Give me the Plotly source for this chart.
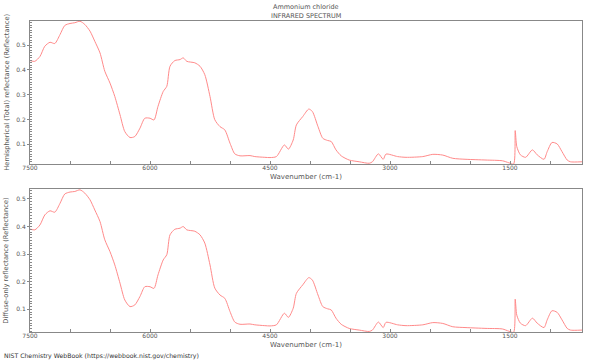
import plotly.graph_objects as go

wavenumber = [7500, 7440, 7375, 7315, 7250, 7190, 7125, 7065, 7000, 6940, 6875, 6815, 6750, 6690,
              6625, 6565, 6500, 6440, 6375, 6315, 6250, 6190, 6125, 6065, 6000, 5950, 5900, 5835,
              5790, 5750, 5690, 5625, 5585, 5540, 5440, 5375, 5315, 5250, 5190, 5125, 5065, 5000,
              4940, 4875, 4750, 4690, 4565, 4500, 4420, 4320, 4270, 4210, 4170, 4090, 4015, 3970,
              3900, 3840, 3780, 3735, 3675, 3610, 3510, 3385, 3260, 3220, 3145, 3085, 3050, 2905,
              2800, 2590, 2465, 2340, 2215, 2050, 1800, 1595, 1515, 1455, 1435, 1415, 1370, 1305,
              1220, 1160, 1075, 1035, 975, 910, 850, 785, 745, 600]

total_reflectance = [0.438, 0.435, 0.455, 0.496, 0.512, 0.507, 0.543, 0.580, 0.588, 0.591, 0.597,
                     0.584, 0.557, 0.516, 0.469, 0.395, 0.347, 0.293, 0.219, 0.151, 0.127, 0.131,
                     0.165, 0.205, 0.205, 0.198, 0.253, 0.313, 0.334, 0.415, 0.438, 0.442, 0.449,
                     0.435, 0.429, 0.415, 0.381, 0.293, 0.199, 0.171, 0.158, 0.104, 0.061, 0.053,
                     0.054, 0.050, 0.047, 0.046, 0.050, 0.097, 0.080, 0.117, 0.178, 0.212, 0.242,
                     0.232, 0.171, 0.124, 0.115, 0.111, 0.077, 0.053, 0.036, 0.029, 0.023, 0.029,
                     0.061, 0.039, 0.060, 0.050, 0.047, 0.050, 0.059, 0.056, 0.043, 0.039, 0.036,
                     0.033, 0.025, 0.020, 0.155, 0.090, 0.057, 0.047, 0.077, 0.057, 0.039, 0.070,
                     0.107, 0.101, 0.070, 0.036, 0.029, 0.029]

diffuse_reflectance = [0.391, 0.388, 0.406, 0.442, 0.457, 0.452, 0.484, 0.518, 0.525, 0.527, 0.533,
                       0.521, 0.497, 0.460, 0.418, 0.352, 0.309, 0.261, 0.195, 0.134, 0.110, 0.116,
                       0.147, 0.182, 0.182, 0.176, 0.225, 0.279, 0.298, 0.370, 0.390, 0.394, 0.400,
                       0.388, 0.383, 0.370, 0.340, 0.261, 0.177, 0.152, 0.140, 0.092, 0.054, 0.046,
                       0.047, 0.044, 0.041, 0.040, 0.044, 0.086, 0.071, 0.104, 0.158, 0.189, 0.215,
                       0.206, 0.152, 0.110, 0.102, 0.098, 0.068, 0.046, 0.031, 0.025, 0.020, 0.025,
                       0.054, 0.034, 0.053, 0.044, 0.041, 0.044, 0.052, 0.049, 0.037, 0.034, 0.031,
                       0.029, 0.021, 0.017, 0.137, 0.079, 0.050, 0.041, 0.068, 0.050, 0.034, 0.062,
                       0.095, 0.089, 0.062, 0.031, 0.025, 0.025]

title_lines = ["Ammonium chloride", "INFRARED SPECTRUM"]
x_title = "Wavenumber (cm-1)"
y_titles = ["Hemispherical (Total) reflectance (Reflectance)", "Diffuse-only reflectance (Reflectance)"]
footer = "NIST Chemistry WebBook (https://webbook.nist.gov/chemistry)"

LINE = "#ff8a8a"
TXT = "#555555"
FRAME = "#888888"
FONT = "DejaVu Sans"

fig = go.Figure()
fig.add_trace(go.Scatter(x=wavenumber, y=total_reflectance, mode="lines",
                         line=dict(color=LINE, width=1, shape="spline", smoothing=0.7),
                         xaxis="x", yaxis="y", showlegend=False, hoverinfo="skip"))
fig.add_trace(go.Scatter(x=wavenumber, y=diffuse_reflectance, mode="lines",
                         line=dict(color=LINE, width=1, shape="spline", smoothing=0.7),
                         xaxis="x2", yaxis="y2", showlegend=False, hoverinfo="skip"))

xcommon = dict(range=[7500, 600], tick0=0, dtick=1500, ticks="inside", ticklen=3,
               ticklabelstandoff=-2,
               tickcolor=FRAME, showline=True, linecolor=FRAME, linewidth=1, mirror=True,
               showgrid=False, zeroline=False, tickfont=dict(size=6, color=TXT, family=FONT),
               minor=dict(dtick=500, tick0=0, ticks="inside", ticklen=3, tickcolor=FRAME))
ycommon = dict(dtick=0.1, ticks="outside", ticklen=2, tickcolor=FRAME, showline=True,
               linecolor=FRAME, linewidth=1, mirror=True, showgrid=False, zeroline=False,
               tickfont=dict(size=6, color=TXT, family=FONT),
               minor=dict(dtick=0.01, ticks="inside", ticklen=2, tickcolor=FRAME))

fig.update_layout(
    width=600, height=360,
    margin=dict(l=30, r=18, t=21, b=28),
    paper_bgcolor="white", plot_bgcolor="white",
    font=dict(family=FONT, size=6, color=TXT),
    xaxis=dict(anchor="y", domain=[0, 1], **xcommon),
    yaxis=dict(anchor="x", domain=[0.5402, 1], range=[0.02, 0.598], **ycommon),
    xaxis2=dict(anchor="y2", domain=[0, 1], **xcommon),
    yaxis2=dict(anchor="x2", domain=[0, 0.4598], range=[0.018, 0.536], **ycommon),
)

ann = []
ann.append(dict(text=title_lines[0], x=0.5, y=1.0466, xref="paper", yref="paper",
                xanchor="center", yanchor="middle", showarrow=False, font=dict(size=6.5, color=TXT)))
ann.append(dict(text=title_lines[1], x=0.5, y=1.0167, xref="paper", yref="paper",
                xanchor="center", yanchor="middle", showarrow=False, font=dict(size=6.5, color=TXT)))
ann.append(dict(text=x_title, x=0.5, y=0.4968, xref="paper", yref="paper",
                xanchor="center", yanchor="middle", showarrow=False, font=dict(size=7, color=TXT)))
ann.append(dict(text=x_title, x=0.5, y=-0.0434, xref="paper", yref="paper",
                xanchor="center", yanchor="middle", showarrow=False, font=dict(size=7, color=TXT)))
ann.append(dict(text=y_titles[0], x=-0.0431, y=0.77, xref="paper", yref="paper", textangle=-90,
                xanchor="center", yanchor="middle", showarrow=False, font=dict(size=6.7, color=TXT)))
ann.append(dict(text=y_titles[1], x=-0.0431, y=0.23, xref="paper", yref="paper", textangle=-90,
                xanchor="center", yanchor="middle", showarrow=False, font=dict(size=6.7, color=TXT)))
ann.append(dict(text=footer, x=-0.0508, y=-0.0756, xref="paper", yref="paper",
                xanchor="left", yanchor="middle", showarrow=False, font=dict(size=6.2, color="#333333")))
fig.update_layout(annotations=ann)

fig.write_html("out.html", config={"displayModeBar": False},
               post_script="document.body.style.margin='0';document.body.style.overflow='hidden';")
